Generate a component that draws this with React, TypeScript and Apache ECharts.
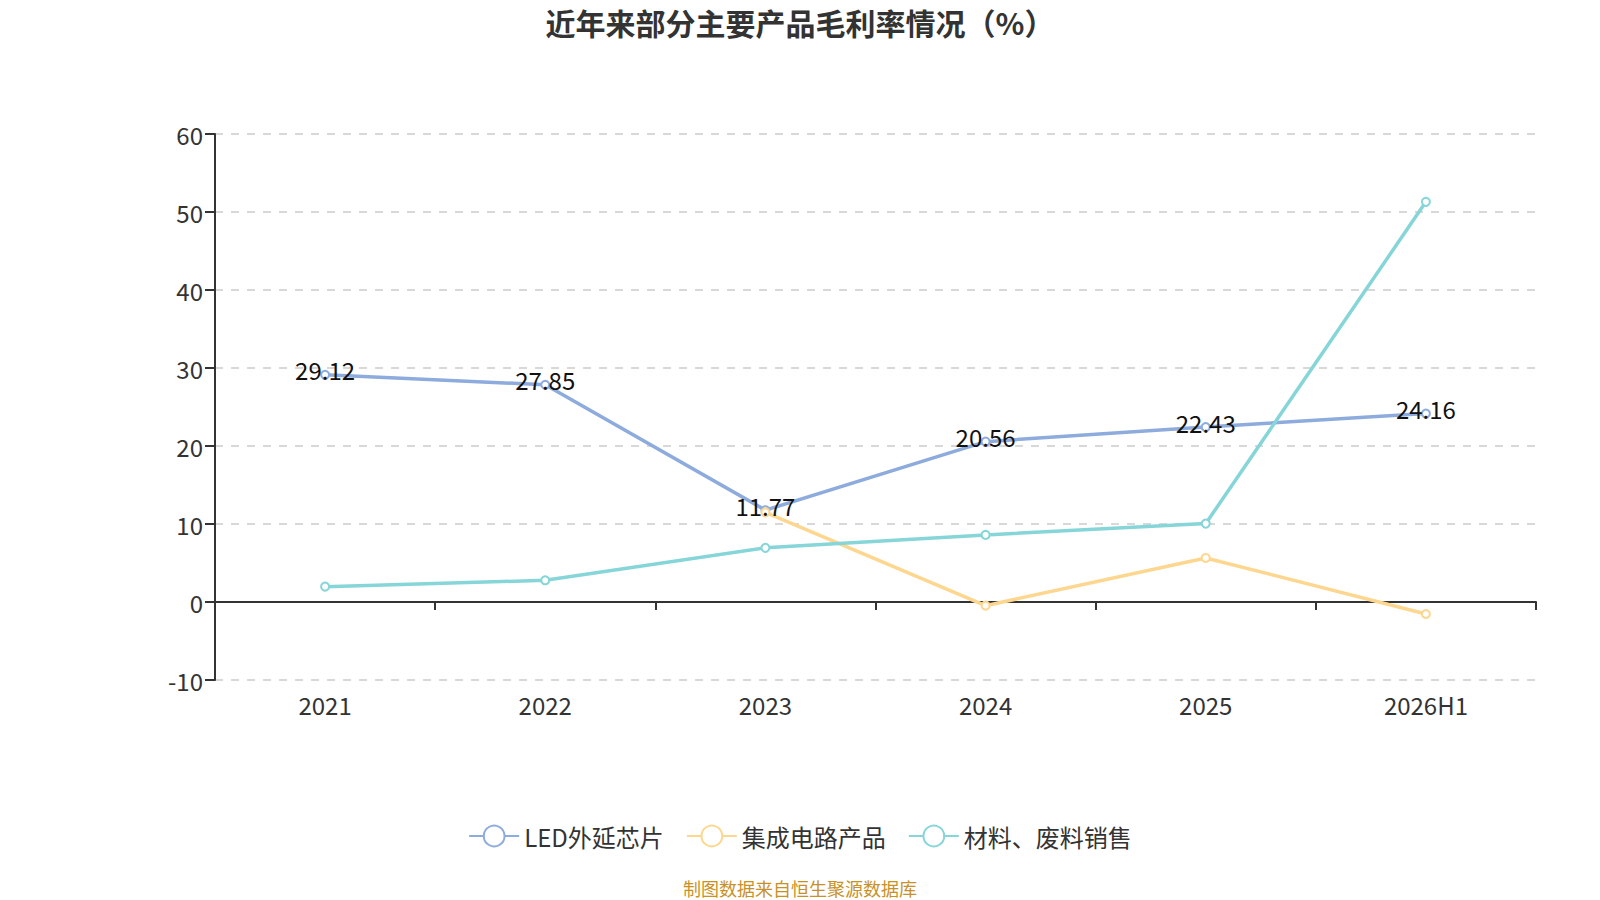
import React, { useEffect, useRef } from "react";
import * as echarts from "echarts";

const categories = ["2021", "2022", "2023", "2024", "2025", "2026H1"];
const ledValues = [29.12, 27.85, 11.77, 20.56, 22.43, 24.16];
const icValues: (number | null)[] = [null, null, 11.49, -0.47, 5.65, -1.54];
const materialValues = [1.97, 2.78, 6.94, 8.6, 10.05, 51.3];
const seriesNames = ["LED外延芯片", "集成电路产品", "材料、废料销售"];
const colors = ["#8dabdc", "#fdd78f", "#86d5d8"];

const FONT = "'Noto Sans CJK SC', 'Noto Sans', sans-serif";

export default function App() {
  const ref = useRef<HTMLDivElement>(null);
  useEffect(() => {
    document.body.style.margin = "0";
    if (!ref.current) return;
    const chart = echarts.init(ref.current, undefined, { renderer: "svg" });
    const mk = (name: string, data: (number | null)[], color: string, showLabel: boolean) => ({
      name,
      type: "line",
      data,
      symbol: "emptyCircle",
      symbolSize: 8,
      connectNulls: false,
      lineStyle: { color, width: 3.5 },
      itemStyle: { color, borderWidth: 2 },
      label: {
        show: showLabel,
        position: "inside",
        offset: [0, -5],
        color: "#111",
        fontSize: 24,
        fontFamily: FONT,
      },
      emphasis: { disabled: true },
    });
    chart.setOption({
      animation: false,
      color: colors,
      textStyle: { fontFamily: FONT },
      title: {
        text: "近年来部分主要产品毛利率情况（%）",
        left: "center",
        top: 2,
        textStyle: { fontSize: 30, fontWeight: "bold", color: "#333", fontFamily: FONT },
      },
      grid: { left: 215, right: 64, top: 134, bottom: 220, containLabel: false },
      legend: {
        bottom: 47,
        left: "center",
        itemWidth: 50,
        itemHeight: 26,
        itemGap: 22,
        textStyle: { fontSize: 24, color: "#333", fontFamily: FONT },
        data: seriesNames,
      },
      xAxis: {
        type: "category",
        data: categories,
        boundaryGap: true,
        axisLine: { onZero: true, lineStyle: { color: "#333", width: 2 } },
        axisTick: { show: true, length: 8, lineStyle: { color: "#333", width: 2 } },
        axisLabel: { margin: 12, fontSize: 24, color: "#333", fontFamily: FONT },
      },
      yAxis: {
        type: "value",
        min: -10,
        max: 60,
        interval: 10,
        axisLine: { show: true, lineStyle: { color: "#333", width: 2 } },
        axisTick: { show: true, length: 10, lineStyle: { color: "#333", width: 2 } },
        axisLabel: { fontSize: 24, color: "#333", margin: 12, fontFamily: FONT },
        splitLine: { lineStyle: { type: [8, 8], color: "#cccccc", width: 1.5 } },
      },
      graphic: [
        {
          type: "text",
          x: 800,
          y: 888,
          style: {
            text: "制图数据来自恒生聚源数据库",
            fill: "#c89128",
            fontSize: 18,
            fontFamily: FONT,
            textAlign: "center",
            textVerticalAlign: "middle",
          },
        },
      ],
      series: [
        mk(seriesNames[0], ledValues, colors[0], true),
        mk(seriesNames[1], icValues, colors[1], false),
        mk(seriesNames[2], materialValues, colors[2], false),
      ],
    });
    return () => chart.dispose();
  }, []);
  return <div ref={ref} style={{ width: 1600, height: 900 }} />;
}
